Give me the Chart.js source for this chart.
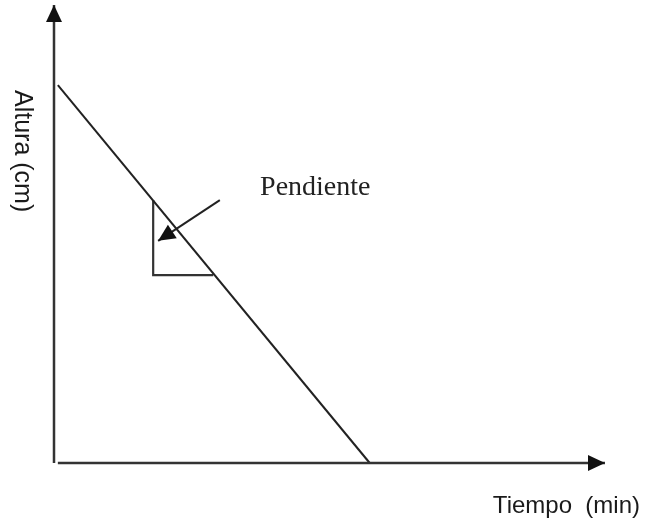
<!DOCTYPE html>
<html>
<head>
<meta charset="utf-8">
<script src="https://cdn.jsdelivr.net/npm/chart.js@4"></script>
<style>
  html, body { margin: 0; padding: 0; background: #ffffff; }
  #wrap { width: 648px; height: 522px; }
</style>
</head>
<body>
<div id="wrap"><canvas id="chart" width="648" height="522"></canvas></div>
<script>
// Altura vs Tiempo (schematic, no ticks)
const lineX = [0.07, 5.73];
const lineY = [8.25, 0];
const triangleX = [1.80, 1.80, 2.89];
const triangleY = [5.74, 4.10, 4.10];
const pointerX = [3.01, 1.89];
const pointerY = [5.74, 4.85];
const axisMax = 10;
const labelPendiente = 'Pendiente';
const labelPendientePos = [3.74, 5.85];
const titleX = 'Tiempo  (min)';
const titleY = 'Altura (cm)';

const toPoints = (xs, ys) => xs.map((x, i) => ({ x: x, y: ys[i] }));

function drawHead(ctx, from, to, len, half) {
    const ang = Math.atan2(to.y - from.y, to.x - from.x);
    ctx.beginPath();
    ctx.moveTo(to.x, to.y);
    ctx.lineTo(to.x - len * Math.cos(ang) + half * Math.sin(ang), to.y - len * Math.sin(ang) - half * Math.cos(ang));
    ctx.lineTo(to.x - len * Math.cos(ang) - half * Math.sin(ang), to.y - len * Math.sin(ang) + half * Math.cos(ang));
    ctx.closePath();
    ctx.fill();
}

const decorPlugin = {
    id: 'decor',
    afterDatasetsDraw(chart) {
        const ctx = chart.ctx;
        const xs = chart.scales.x;
        const ys = chart.scales.y;
        const px = (x, y) => ({ x: xs.getPixelForValue(x), y: ys.getPixelForValue(y) });
        ctx.save();
        ctx.fillStyle = '#111111';

        // axis arrow heads
        drawHead(ctx, px(0, 0), px(0, axisMax), 17, 8);
        drawHead(ctx, px(0, 0), px(axisMax, 0), 17, 8);

        // pointer arrow head
        drawHead(ctx, px(pointerX[0], pointerY[0]), px(pointerX[1], pointerY[1]), 17, 8);

        // label
        const p = px(labelPendientePos[0], labelPendientePos[1]);
        ctx.fillStyle = '#222222';
        ctx.font = '28px "Liberation Serif"';
        ctx.textBaseline = 'alphabetic';
        ctx.fillText(labelPendiente, p.x, p.y);

        // axis titles
        ctx.fillStyle = '#1a1a1a';
        ctx.font = '24px "Liberation Sans"';
        ctx.textAlign = 'right';
        ctx.fillText(titleX, 640, 513);

        ctx.translate(15, 90);
        ctx.rotate(Math.PI / 2);
        ctx.textAlign = 'left';
        ctx.font = '25px "Liberation Sans"';
        ctx.fillText(titleY, 0, 0);
        ctx.restore();
    }
};

const ctx = document.getElementById('chart').getContext('2d');
new Chart(ctx, {
    type: 'scatter',
    data: {
        datasets: [
            { data: toPoints([0, 0], [0, axisMax]), borderColor: '#333333', borderWidth: 2.5 },
            { data: toPoints([lineX[0], axisMax], [0, 0]), borderColor: '#333333', borderWidth: 2.5 },
            { data: toPoints(lineX, lineY), borderColor: '#222222', borderWidth: 2 },
            { data: toPoints(triangleX, triangleY), borderColor: '#333333', borderWidth: 2.2 },
            { data: toPoints(pointerX, pointerY), borderColor: '#222222', borderWidth: 2 }
        ].map(ds => Object.assign(ds, { showLine: true, pointRadius: 0, fill: false, tension: 0, clip: false }))
    },
    options: {
        responsive: false,
        animation: false,
        layout: { padding: { left: 54, top: 5, right: 43, bottom: 59 } },
        plugins: { legend: { display: false }, tooltip: { enabled: false } },
        scales: {
            x: { type: 'linear', min: 0, max: axisMax, display: false },
            y: { type: 'linear', min: 0, max: axisMax, display: false }
        }
    },
    plugins: [decorPlugin]
});
</script>
</body>
</html>
